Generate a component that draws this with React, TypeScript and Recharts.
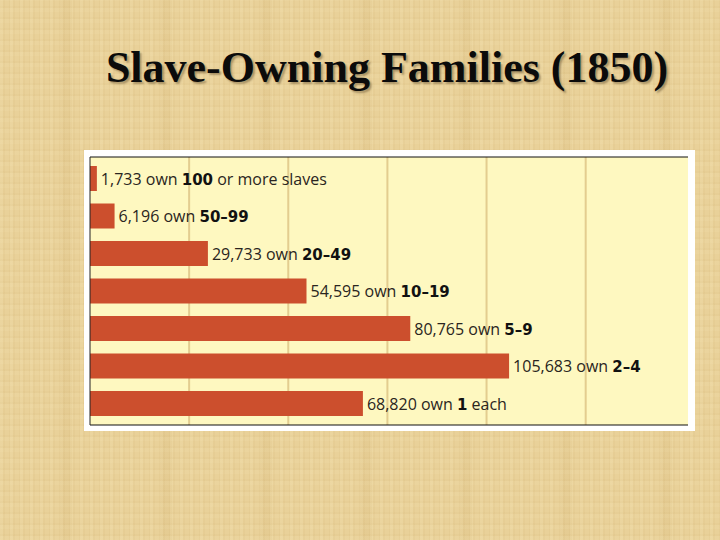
import React from "react";
import { BarChart, Bar, XAxis, YAxis, CartesianGrid, LabelList } from "recharts";

const title = "Slave-Owning Families (1850)";
const categories = ["100+", "50-99", "20-49", "10-19", "5-9", "2-4", "1"];
const families = [1733, 6196, 29733, 54595, 80765, 105683, 68820];
const leadText = ["1,733 own ", "6,196 own ", "29,733 own ", "54,595 own ", "80,765 own ", "105,683 own ", "68,820 own "];
const boldText = ["100", "50–99", "20–49", "10–19", "5–9", "2–4", "1"];
const tailText = [" or more slaves", "", "", "", "", "", " each"];
const gridTicks = [25000, 50000, 75000, 100000, 125000];
const axisMax = 150800;

const data = categories.map((category, i) => ({ category, families: families[i] }));

const paper = {
  position: "absolute" as const,
  left: 0,
  top: 0,
  width: 720,
  height: 540,
  overflow: "hidden",
  backgroundColor: "#e9d199",
  backgroundImage:
    "repeating-linear-gradient(90deg, rgba(255,245,205,0.10) 0 3px, rgba(176,135,60,0.05) 3px 5px, rgba(255,245,205,0) 5px 9px, rgba(176,135,60,0.06) 9px 10px), repeating-linear-gradient(0deg, rgba(255,245,205,0.08) 0 4px, rgba(176,135,60,0.04) 4px 6px, rgba(255,245,205,0) 6px 11px), repeating-linear-gradient(90deg, rgba(176,135,60,0) 0 60px, rgba(176,135,60,0.07) 60px 72px, rgba(176,135,60,0) 72px 100px)",
};

function BarLabel(props: any) {
  const { x, y, width, height, index } = props;
  return (
    <text
      x={x + width + 4}
      y={y + height / 2}
      dy={6}
      fontFamily="'Open Sans', sans-serif"
      fontSize={16}
      fill="#2a2520"
    >
      <tspan>{leadText[index]}</tspan>
      <tspan fontFamily="'DejaVu Sans', sans-serif" fontSize={15} fontWeight={700} fill="#111">
        {boldText[index]}
      </tspan>
      <tspan>{tailText[index]}</tspan>
    </text>
  );
}

// The grid follows the plot's own extent and the same 0..axisMax domain as the axis.
const gridCoordinates = ({ offset }: any) =>
  gridTicks.map((tick) => offset.left + (tick / axisMax) * offset.width);

export default function App() {
  return (
    <div style={paper}>
      <div
        style={{
          position: "absolute",
          left: 84,
          top: 150,
          width: 611,
          height: 281,
          background: "#ffffff",
        }}
      />
      <div
        style={{
          position: "absolute",
          left: 0,
          top: 38,
          width: 774,
          textAlign: "center",
          fontFamily: "'Liberation Serif', serif",
          fontWeight: 700,
          fontSize: 44,
          lineHeight: "60px",
          whiteSpace: "nowrap",
          color: "#0b0b0b",
          textShadow: "2px 2px 2px rgba(90,70,40,0.45)",
        }}
      >
        {title}
      </div>
      <div style={{ position: "absolute", left: 0, top: 0 }}>
        <BarChart
          width={720}
          height={540}
          data={data}
          layout="vertical"
          margin={{ top: 156, right: 32, bottom: 114, left: 89 }}
          barCategoryGap={0}
          barSize={25}
        >
          <CartesianGrid
            horizontal={false}
            vertical
            verticalCoordinatesGenerator={gridCoordinates}
            stroke="#e3cd8f"
            strokeWidth={2}
            fill="#fef8c0"
          />
          <XAxis
            type="number"
            orientation="bottom"
            domain={[0, axisMax]}
            ticks={gridTicks}
            height={1}
            tick={false}
            axisLine={{ stroke: "#111", strokeWidth: 1 }}
            tickLine={false}
          />
          <XAxis
            xAxisId="top"
            type="number"
            orientation="top"
            domain={[0, axisMax]}
            ticks={gridTicks}
            height={1}
            tick={false}
            axisLine={{ stroke: "#111", strokeWidth: 1 }}
            tickLine={false}
          />
          <YAxis
            type="category"
            dataKey="category"
            width={1}
            tick={false}
            tickLine={false}
            axisLine={{ stroke: "#222", strokeWidth: 1 }}
            padding={{ top: 3, bottom: 2.5 }}
          />
          <Bar dataKey="families" fill="#cc4f2d" isAnimationActive={false}>
            <LabelList dataKey="families" content={BarLabel} />
          </Bar>
        </BarChart>
      </div>
    </div>
  );
}
